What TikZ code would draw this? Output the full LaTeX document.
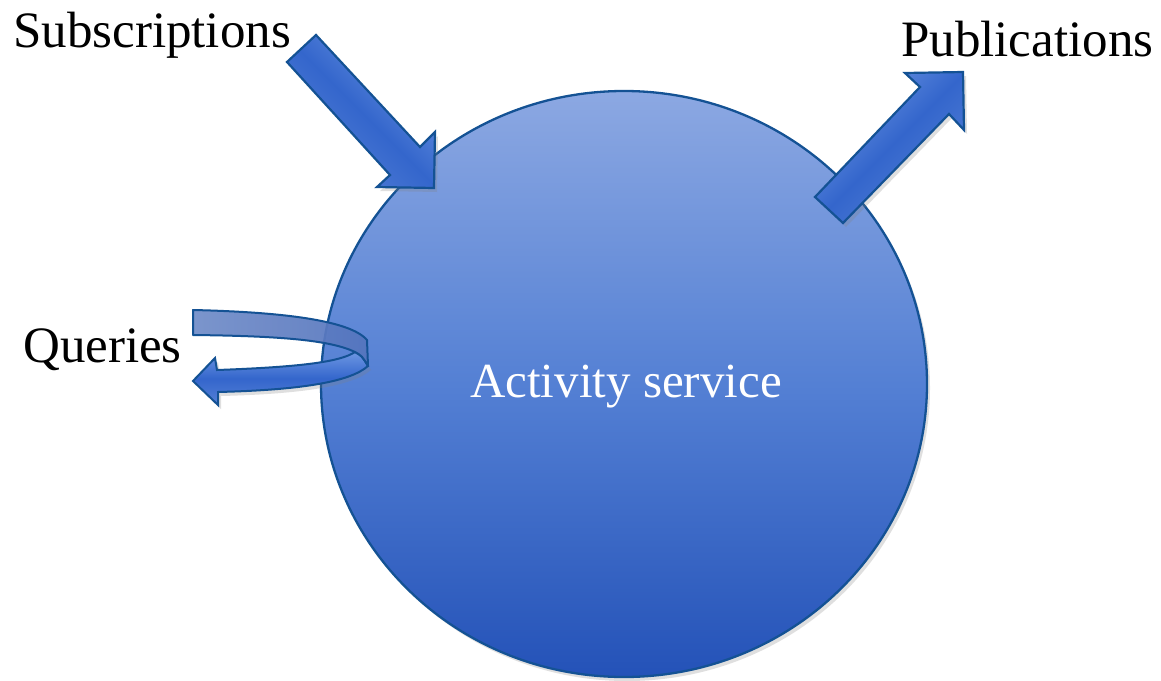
\documentclass[tikz,border=0pt]{standalone}
\usepackage{fontspec}
\setmainfont{Liberation Serif}
\usetikzlibrary{shapes.geometric,shadows}
\definecolor{edgeblue}{RGB}{20,82,148}
\definecolor{ctop}{RGB}{140,168,226}
\definecolor{cmid}{RGB}{84,128,212}
\definecolor{cbot}{RGB}{36,82,184}
\definecolor{alight}{RGB}{108,150,226}
\definecolor{amid}{RGB}{52,102,204}
\definecolor{aedge}{RGB}{84,128,214}
\definecolor{bandgray}{RGB}{112,140,200}
\definecolor{banddark}{RGB}{84,116,190}
\tikzset{
  lbl/.style={font=\fontsize{51}{51}\selectfont, text=black, inner sep=0pt, anchor=base west},
  svcshape/.style={ellipse, draw=edgeblue, line width=2.3pt, minimum width=606pt, minimum height=586pt,
    top color=ctop, bottom color=cbot, middle color=cmid, inner sep=0pt,
    drop shadow={opacity=0.25, shadow xshift=3pt, shadow yshift=-4pt}},
  blockarrow/.style={draw=edgeblue, line width=2.2pt, line join=miter,
    top color=alight, bottom color=aedge, middle color=amid,
    drop shadow={opacity=0.25, shadow xshift=3pt, shadow yshift=-4pt}},
}
\begin{document}
\begin{tikzpicture}[x=1pt,y=-1pt]
\useasboundingbox (0,0) rectangle (1161,680);
\fill[white] (0,0) rectangle (1161,680);

% service circle
\node[svcshape] (svc) at (624,384) {};
\node[font=\fontsize{49}{49}\selectfont, text=white, inner sep=0pt, anchor=base] (svclabel) at (626,397) {Activity service};

% Subscriptions arrow (in)
\path[blockarrow, shading angle=-45]
  (316,35) -- (420,147) -- (435,132) -- (434,188) -- (377,187) -- (390,175) -- (287,62) -- cycle;

% Publications arrow (out)
\path[blockarrow, shading angle=45]
  (815,197) -- (920,87) -- (905,73) -- (963,72) -- (964,130) -- (949,114) -- (843,223) -- cycle;

% Queries loop arrow: lower band with head
\path[blockarrow, line width=2pt]
  (355,352) .. controls (362,356) .. (368,366)
  .. controls (350,382) and (300,390) .. (218,392)
  -- (218,405) -- (193,381) -- (215,358) -- (217,370)
  .. controls (300,367) and (340,362) .. (355,352) -- cycle;
% upper band
\path[draw=edgeblue, line width=2pt, line join=round, left color=bandgray, right color=banddark, fill opacity=0.92]
  (193,310) .. controls (280,312) and (350,320) .. (367,340)
  -- (368,366) .. controls (362,356) .. (355,352)
  .. controls (330,340) and (280,336) .. (193,335) -- cycle;

% labels
\node[lbl] (subs) at (13,47) {Subscriptions};
\node[lbl] (pubs) at (901,56) {Publications};
\node[lbl] (queries) at (23,362) {Queries};
\end{tikzpicture}
\end{document}
